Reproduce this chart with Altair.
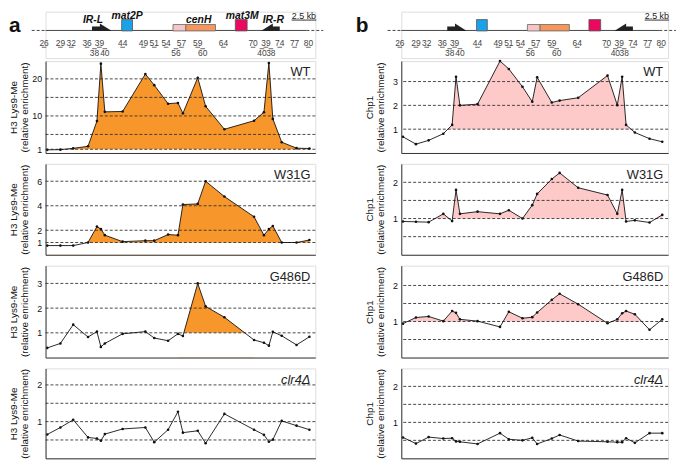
import altair as alt
import pandas as pd

FONT = "Liberation Sans"

# ---------------- data ----------------
probe_labels = ["26", "29", "32", "36", "38", "39", "40", "44", "49", "51", "54", "56",
                "57", "59", "60", "64", "70", "40", "39", "38", "74", "77", "80"]
probe_pos = [1.7, 15, 28, 43, 52, 56, 60, 78, 101, 110, 124, 134,
             139, 154, 162, 181, 211, 221, 226, 230, 239, 254, 267]
label_pos = [-1.5, 15, 26, 42, 49.5, 54.5, 60, 78, 99, 110, 122, 132,
             137.5, 154, 159, 180, 210, 219, 223, 228, 237, 252, 266]
label_row = ["top", "top", "top", "top", "bottom", "top", "bottom", "top", "top", "top", "top", "bottom",
             "top", "top", "bottom", "top", "top", "bottom", "top", "bottom", "top", "top", "top"]

h3_wt = [0.85, 0.9, 1.25, 1.8, 8.6, 24.1, 11.1, 11.2, 21.3, 18.3, 13.3, 13.5,
         10.7, 20.3, 12.6, 6.4, 8.7, 11.0, 24.3, 9.2, 2.9, 1.3, 1.2]
h3_w31g = [0.75, 0.75, 0.75, 1.0, 2.3, 2.1, 1.6, 1.07, 1.15, 1.15, 1.65, 1.6,
           4.1, 4.15, 6.0, 4.75, 3.1, 1.6, 2.1, 2.35, 1.0, 1.0, 1.2]
h3_g486d = [0.39, 0.57, 1.33, 0.83, 1.05, 0.43, 0.57, 0.96, 1.05, 0.79, 0.68, 0.96,
            0.87, 3.0, 2.07, 1.63, 0.71, 0.6, 0.48, 1.04, 0.88, 0.51, 0.84]
h3_clr4 = [0.65, 0.84, 1.05, 0.57, 0.54, 0.48, 0.66, 0.80, 0.84, 0.44, 0.78, 1.27,
           0.70, 0.75, 0.41, 1.21, 0.78, 0.64, 0.45, 0.51, 1.02, 0.89, 0.78]

chp1_wt = [0.68, 0.37, 0.53, 0.81, 1.18, 3.2, 2.0, 2.05, 3.86, 3.53, 2.78, 2.15,
           3.18, 2.12, 2.2, 2.32, 3.25, 2.01, 3.2, 1.18, 0.86, 0.6, 0.47]
chp1_w31g = [0.92, 0.91, 0.9, 1.13, 0.93, 1.79, 1.13, 1.19, 1.13, 1.23, 1.0, 1.37,
             1.68, 2.09, 2.26, 1.85, 1.65, 1.13, 1.79, 0.92, 0.95, 0.89, 1.1]
chp1_g486d = [0.94, 1.11, 1.14, 1.01, 1.29, 1.24, 1.06, 1.01, 0.85, 1.27, 1.09, 1.12,
              1.25, 1.6, 1.77, 1.48, 0.95, 1.06, 1.23, 1.29, 1.2, 0.77, 1.06]
chp1_clr4 = [0.58, 0.41, 0.59, 0.55, 0.56, 0.47, 0.46, 0.4, 0.7, 0.53, 0.5, 0.57,
             0.4, 0.55, 0.65, 0.48, 0.46, 0.45, 0.45, 0.56, 0.43, 0.7, 0.7]

strains = ["WT", "W31G", "G486D", "clr4\u0394"]

# shaded probe ranges (index of first/last probe) per panel; None = no shading
shade_a = [(0, 22), (0, 22), (11, 16), None]
shade_b = [(0, 22), (0, 22), (0, 22), None]

# map features (same coordinate units as probe positions)
box_names = ["mat2P", "cenH_a", "cenH_b", "mat3M"]
box_start = [77, 129, 142, 192]
box_end = [88, 142, 172, 204]
box_color = ["#1ba2e6", "#f7c5c6", "#f6965c", "#e9095f"]
box_tall = [True, False, False, True]
ir_start = [47, 228]
ir_end = [57, 237]
ir_arrow = [61, 224]
map_labels = ["IR-L", "mat2P", "cenH", "mat3M", "IR-R"]
map_label_pos = [48, 82.5, 155, 199, 230.5]
map_label_tier = ["low", "high", "low", "high", "low"]
line_solid = [0, 264]
line_dash_left = [-14, 0]
line_dash_right = [264, 281]
scale_bar = [249, 274]
scale_text = "2.5 kb"

XMAX = 273
ORANGE = "#f7962a"
PINK = "#fdc9c9"


def panel(values, ymax, grid_vals, tick_vals, fill, shade, label, width, height, ytitle):
    df = pd.DataFrame({"pos": probe_pos, "v": values})
    xs = alt.Scale(domain=[0, XMAX], nice=False, zero=False)
    ys = alt.Scale(domain=[0, ymax], nice=False, zero=False)
    x_enc = alt.X("pos:Q", scale=xs,
                  axis=alt.Axis(labels=False, ticks=False, grid=False, title=None,
                                domainColor="#333", domainWidth=1, zindex=1))
    y_enc = alt.Y("v:Q", scale=ys,
                  axis=alt.Axis(values=tick_vals, grid=False, ticks=False, tickSize=0,
                                labelPadding=4, labelFontSize=9, labelFont=FONT,
                                labelColor="#111", title=ytitle, titleFont=FONT,
                                titleFontSize=10, titleFontWeight="normal", titleColor="#111",
                                titleX=-27, titleY=height / 2, titleLineHeight=11,
                                domainColor="#333", domainWidth=1, zindex=1))
    base = alt.Chart(df)
    layers = []
    if shade is not None:
        sub = df.iloc[shade[0]:shade[1] + 1]
        layers.append(alt.Chart(sub).mark_area(color=fill, opacity=1).encode(x=x_enc, y=y_enc))
        layers.append(alt.Chart(pd.DataFrame({"v": [1.0]})).mark_rect(color="white").encode(
            y=y_enc, y2=alt.value(height), x=alt.value(0), x2=alt.value(width)))
    layers.append(alt.Chart(pd.DataFrame({"v": grid_vals})).mark_rule(
        color="#333", strokeDash=[3, 2], strokeWidth=0.9).encode(y=y_enc))
    layers.append(base.mark_line(color="#111", strokeWidth=0.9).encode(x=x_enc, y=y_enc))
    layers.append(base.mark_circle(color="#111", size=7, opacity=1).encode(x=x_enc, y=y_enc))
    italic = "italic" if label.startswith("clr4") else "normal"
    layers.append(alt.Chart(pd.DataFrame({"t": [label]})).mark_text(
        align="right", baseline="middle", fontSize=13, font=FONT, fontStyle=italic,
        color="#222").encode(x=alt.value(width - 5), y=alt.value(11.5), text="t:N"))
    return alt.layer(*layers).properties(width=width, height=height)


def gene_map(width, letter, letter_x, show_names):
    xs = alt.Scale(domain=[0, XMAX], nice=False, zero=False)

    def X(f):
        return alt.X(f, scale=xs, axis=None)

    layers = []
    layers.append(alt.Chart(pd.DataFrame({"s": [line_solid[0]], "e": [line_solid[1]]}))
                  .mark_rule(color="#444", strokeWidth=1)
                  .encode(x=X("s:Q"), x2="e:Q", y=alt.value(19)))
    layers.append(alt.Chart(pd.DataFrame({"s": [line_dash_left[0], line_dash_right[0]],
                                          "e": [line_dash_left[1], line_dash_right[1]]}))
                  .mark_rule(color="#444", strokeWidth=1, strokeDash=[3, 2])
                  .encode(x=X("s:Q"), x2="e:Q", y=alt.value(19)))
    boxes = pd.DataFrame({"name": box_names, "s": box_start, "e": box_end,
                          "c": box_color, "tall": box_tall})
    layers.append(alt.Chart(boxes).transform_filter("datum.tall")
                  .mark_rect(stroke="#555", strokeWidth=0.8)
                  .encode(x=X("s:Q"), x2="e:Q", y=alt.value(8), y2=alt.value(19.5),
                          color=alt.Color("c:N", scale=None)))
    layers.append(alt.Chart(boxes).transform_filter("!datum.tall")
                  .mark_rect(stroke="#666", strokeWidth=0.8)
                  .encode(x=X("s:Q"), x2="e:Q", y=alt.value(13), y2=alt.value(19.5),
                          color=alt.Color("c:N", scale=None)))
    layers.append(alt.Chart(pd.DataFrame({"s": ir_start, "e": ir_end}))
                  .mark_rect(color="#222")
                  .encode(x=X("s:Q"), x2="e:Q", y=alt.value(15), y2=alt.value(19.5)))
    layers.append(alt.Chart(pd.DataFrame({"p": [ir_arrow[0]]}))
                  .mark_point(shape="M -1 -0.625 L 1 0.625 L -1 0.625 Z", filled=True,
                              size=144, color="#222", opacity=1)
                  .encode(x=X("p:Q"), y=alt.value(15.75)))
    layers.append(alt.Chart(pd.DataFrame({"p": [ir_arrow[1]]}))
                  .mark_point(shape="M 1 -0.625 L -1 0.625 L 1 0.625 Z", filled=True,
                              size=144, color="#222", opacity=1)
                  .encode(x=X("p:Q"), y=alt.value(15.75)))
    # scale bar
    layers.append(alt.Chart(pd.DataFrame({"s": [scale_bar[0]], "e": [scale_bar[1]]}))
                  .mark_rule(color="#333", strokeWidth=1)
                  .encode(x=X("s:Q"), x2="e:Q", y=alt.value(8.5)))
    layers.append(alt.Chart(pd.DataFrame({"m": [(scale_bar[0] + scale_bar[1]) / 2], "t": [scale_text]}))
                  .mark_text(fontSize=9, font=FONT, baseline="alphabetic", color="#222")
                  .encode(x=X("m:Q"), y=alt.value(7.2), text="t:N"))
    # probe labels
    probes = pd.DataFrame({"pos": label_pos, "lab": probe_labels, "row": label_row})
    layers.append(alt.Chart(probes).transform_filter("datum.row == 'top'")
                  .mark_text(fontSize=8.5, font=FONT, baseline="middle", color="#444")
                  .encode(x=X("pos:Q"), y=alt.value(32), text="lab:N"))
    layers.append(alt.Chart(probes).transform_filter("datum.row == 'bottom'")
                  .mark_text(fontSize=8.5, font=FONT, baseline="middle", color="#444")
                  .encode(x=X("pos:Q"), y=alt.value(42), text="lab:N"))
    layers.append(alt.Chart(probes).transform_filter("datum.row == 'top'")
                  .mark_point(shape="stroke", size=22, strokeWidth=1, color="#666", opacity=1)
                  .encode(x=X("pos:Q"), y=alt.value(36)))
    layers.append(alt.Chart(probes).transform_filter("datum.row == 'bottom'")
                  .mark_point(shape="stroke", size=22, strokeWidth=1, color="#666", opacity=1)
                  .encode(x=X("pos:Q"), y=alt.value(37.5)))
    if show_names:
        names = pd.DataFrame({"pos": map_label_pos, "t": map_labels, "tier": map_label_tier})
        layers.append(alt.Chart(names).transform_filter("datum.tier == 'high'")
                      .mark_text(fontSize=10.5, font=FONT, fontStyle="italic", fontWeight="bold",
                                 baseline="alphabetic", color="#111")
                      .encode(x=X("pos:Q"), y=alt.value(7.6), text="t:N"))
        layers.append(alt.Chart(names).transform_filter("datum.tier == 'low'")
                      .mark_text(fontSize=10.5, font=FONT, fontStyle="italic", fontWeight="bold",
                                 baseline="alphabetic", color="#111")
                      .encode(x=X("pos:Q"), y=alt.value(11), text="t:N"))
    layers.append(alt.Chart(pd.DataFrame({"t": [letter]}))
                  .mark_text(fontSize=21, font=FONT, fontWeight="bold", align="left",
                             baseline="alphabetic", color="#111")
                  .encode(x=alt.value(letter_x), y=alt.value(21), text="t:N"))
    return alt.layer(*layers).properties(width=width, height=47)


WA, WB = 273, 270
H = [93, 92, 93, 91]

title_a = ["H3 Lys9-Me", "(relative enrichment)"]
title_b = ["Chp1", "(relative enrichment)"]

panels_a = [
    panel(h3_wt, 24.8, [1, 5, 10, 15, 20], [1, 10, 20], ORANGE, shade_a[0], strains[0], WA, H[0], title_a),
    panel(h3_w31g, 7.42, [1, 2, 4, 6], [1, 2, 4, 6], ORANGE, shade_a[1], strains[1], WA, H[1], title_a),
    panel(h3_g486d, 3.72, [1, 2, 3], [1, 2, 3], ORANGE, shade_a[2], strains[2], WA, H[2], title_a),
    panel(h3_clr4, 2.45, [0.5, 1, 1.5, 2], [1, 2], ORANGE, shade_a[3], strains[3], WA, H[3], title_a),
]
panels_b = [
    panel(chp1_wt, 3.86, [1, 2, 3], [1, 2, 3], PINK, shade_b[0], strains[0], WB, H[0], title_b),
    panel(chp1_w31g, 2.51, [0.5, 1, 1.5, 2], [1, 2], PINK, shade_b[1], strains[1], WB, H[1], title_b),
    panel(chp1_g486d, 2.55, [0.5, 1, 1.5, 2], [1, 2], PINK, shade_b[2], strains[2], WB, H[2], title_b),
    panel(chp1_clr4, 2.5, [0.5, 1, 1.5, 2], [1, 2], PINK, shade_b[3], strains[3], WB, H[3], title_b),
]

col_a = alt.vconcat(gene_map(WA, "a", -37, True),
                    alt.vconcat(*panels_a, spacing=11, bounds="flush"),
                    spacing=3, bounds="flush")
col_b = alt.vconcat(gene_map(WB, "b", -46, False),
                    alt.vconcat(*panels_b, spacing=11, bounds="flush"),
                    spacing=3, bounds="flush")

chart = alt.hconcat(col_a, col_b, spacing=31).configure_view(
    stroke=None).configure(background="white", padding=0)

chart.save("out.html", embed_options={"renderer": "svg", "actions": False})
